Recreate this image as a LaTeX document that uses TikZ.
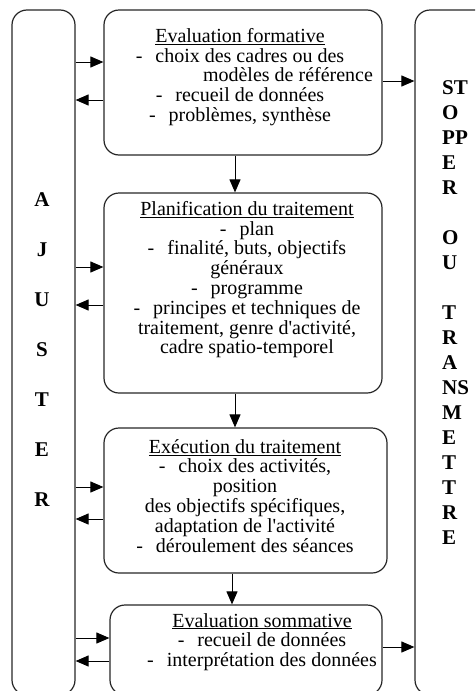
\documentclass[tikz,border=0pt]{standalone}
\usepackage{fontspec}
\setmainfont{Liberation Serif}
\usetikzlibrary{arrows.meta}
\newcommand{\titre}[1]{\underline{#1}}
\newcommand{\tiret}{-\hspace{0.65em}}
\newcommand{\apos}{\textquotesingle}

\begin{document}
\begin{tikzpicture}[x=1pt,y=-1pt,
   boite/.style={draw=black!85,line width=1.2pt,rounded corners=15pt,inner sep=0pt},
   fl/.style={-{Triangle[length=13pt,width=11pt]},line width=1pt},
   txt/.style={anchor=north,align=center,inner sep=0pt,
     font=\fontsize{20}{19.8}\selectfont},
   lettre/.style={inner sep=0pt,font=\fontsize{21}{25}\selectfont\bfseries}]
     \useasboundingbox (0,0) rectangle (475,691);
     \clip (0,0) rectangle (475,691);
     % les cadres
     \node[boite,minimum width=63pt,minimum height=685pt]  (ajuster) at (43.5,352.5) {};
     \node[boite,minimum width=80pt,minimum height=685pt]  (stopper) at (455,352.5) {};
     \node[boite,minimum width=278pt,minimum height=145pt] (evalf)   at (243,82.5) {};
     \node[boite,minimum width=278pt,minimum height=200pt] (planif)  at (243,293) {};
     \node[boite,minimum width=283pt,minimum height=145pt] (exec)    at (245.5,500.5) {};
     \node[boite,minimum width=272pt,minimum height=90pt]  (evals)   at (246,650) {};
     % les textes
     \node[txt] (t1) at (240,28) {\titre{Evaluation formative}\\
       \tiret choix des cadres ou des\\
       \hspace*{96pt}modèles de référence\\
       \tiret recueil de données\\
       \tiret problèmes, synthèse};
     \node[txt] (t2) at (247,201) {\titre{Planification du traitement}\\
       \tiret plan\\
       \tiret finalité, buts, objectifs\\
       généraux\\
       \tiret programme\\
       \tiret principes et techniques de\\
       traitement, genre d\apos activité,\\
       cadre spatio-temporel};
     \node[txt] (t3) at (245,439) {\titre{Exécution du traitement}\\
       \tiret choix des activités,\\
       position\\
       des objectifs spécifiques,\\
       adaptation de l\apos activité\\
       \tiret déroulement des séances};
     \node[txt] (t4) at (262,613) {\titre{Evaluation sommative}\\
       \tiret recueil de données\\
       \tiret interprétation des données};
     \foreach \l [count=\i] in {A,J,U,S,T,E,R}
       \node[lettre] (a\i) at (42,150+50*\i) {\l};
     \node[lettre,anchor=north west,align=left] (st) at (442,80)
       {ST\\O\\PP\\E\\R\\[25pt]O\\U\\[25pt]T\\R\\A\\NS\\M\\E\\T\\T\\R\\E};
     % les fleches
     \foreach \b/\p/\q in {evalf/62/100,planif/267/305,exec/487/519,evals/638/661} {
       \draw[fl] (ajuster.east |- 0,\p) -- (\b.west |- 0,\p);
       \draw[fl] (\b.west |- 0,\q) -- (ajuster.east |- 0,\q);
     }
     \draw[fl] (evalf.south -| 235,0) -- (planif.north -| 235,0);
     \draw[fl] (planif.south -| 235,0) -- (exec.north -| 235,0);
     \draw[fl] (exec.south -| 232,0) -- (evals.north -| 232,0);
     \draw[fl] (evalf.east |- 0,81) -- (stopper.west |- 0,81);
     \draw[fl] (evals.east |- 0,647) -- (stopper.west |- 0,647);
\end{tikzpicture}
\end{document}
